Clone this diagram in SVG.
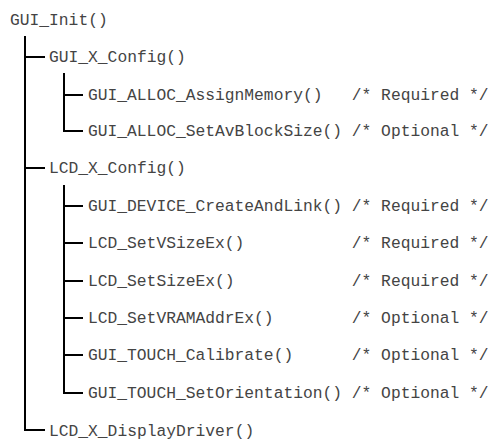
<svg xmlns="http://www.w3.org/2000/svg" width="490" height="441" viewBox="0 0 490 441">
<style>
text{font-family:"Liberation Mono","Courier New",monospace;font-size:16.3px;fill:#444;white-space:pre}
.c{fill:none;stroke:#000;stroke-width:2}
</style>
<rect width="490" height="441" fill="#fff"/>
<g id="connectors">
<path class="c" d="M25,36V430H45"/>
<path class="c" d="M25,57H45M25,168H45"/>
<path class="c" d="M64,73V131H83M64,95H83"/>
<path class="c" d="M64,185V393H83M64,206H83M64,243H83M64,281H83M64,318H83M64,355H83"/>
</g>
<g id="n0"><text x="10" y="25">GUI_Init()</text></g>
<g id="n1"><text x="49" y="62">GUI_X_Config()</text></g>
<g id="n2"><text x="88" y="100" xml:space="preserve">GUI_ALLOC_AssignMemory()   /* Required */</text></g>
<g id="n3"><text x="88" y="136" xml:space="preserve">GUI_ALLOC_SetAvBlockSize() /* Optional */</text></g>
<g id="n4"><text x="49" y="173">LCD_X_Config()</text></g>
<g id="n5"><text x="88" y="211" xml:space="preserve">GUI_DEVICE_CreateAndLink() /* Required */</text></g>
<g id="n6"><text x="88" y="248" xml:space="preserve">LCD_SetVSizeEx()           /* Required */</text></g>
<g id="n7"><text x="88" y="286" xml:space="preserve">LCD_SetSizeEx()            /* Required */</text></g>
<g id="n8"><text x="88" y="323" xml:space="preserve">LCD_SetVRAMAddrEx()        /* Optional */</text></g>
<g id="n9"><text x="88" y="360" xml:space="preserve">GUI_TOUCH_Calibrate()      /* Optional */</text></g>
<g id="n10"><text x="88" y="398" xml:space="preserve">GUI_TOUCH_SetOrientation() /* Optional */</text></g>
<g id="n11"><text x="49" y="436">LCD_X_DisplayDriver()</text></g>
</svg>
